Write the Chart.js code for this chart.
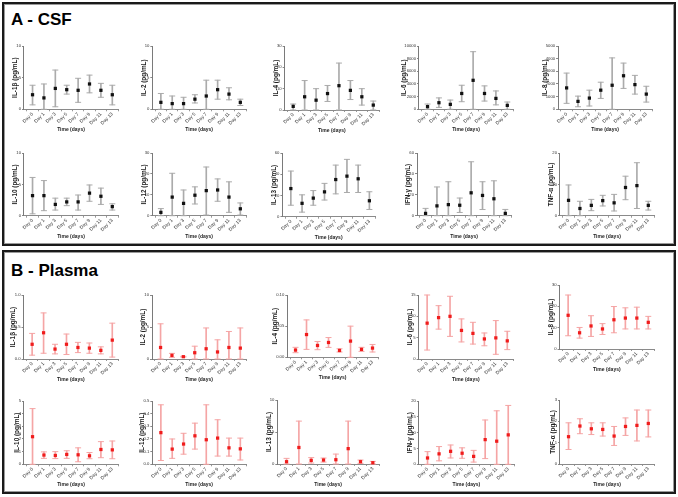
<!DOCTYPE html>
<html>
<head>
<meta charset="utf-8">
<script src="https://cdn.jsdelivr.net/npm/chart.js@4.4.1/dist/chart.umd.min.js"></script>
<style>
  body { margin: 0; width: 678px; height: 497px; position: relative; overflow: hidden; background: #fff;
         font-family: "Liberation Sans", Arial, sans-serif; }
  .box { position: absolute; left: 2px; width: 670px; height: 240px; border: 2px solid #1a1a1a;
         box-shadow: inset 0 0 0 1px #9a9a9a; }
  .head { position: absolute; left: 11px; font-weight: bold; font-size: 17px; line-height: 17px; color: #000; }
  canvas { position: absolute; }
</style>
</head>
<body>
<div class="box" style="top:2px"></div>
<div class="box" style="top:250px"></div>
<div class="head" style="top:11px">A - CSF</div>
<div class="head" style="top:262px">B - Plasma</div>
<script>
var days = ["Day 0", "Day 1", "Day 3", "Day 5", "Day 7", "Day 9", "Day 11", "Day 13"];

// A - CSF (mean, lower and upper end of error bar)
var csfIL1bMean = [2.3, 1.8, 3.3, 3.1, 3.0, 4.0, 3.0, 2.3];
var csfIL1bLow = [0.7, 0, 0.4, 2.4, 1.1, 2.6, 1.9, 0.7];
var csfIL1bHigh = [3.8, 4.0, 6.2, 3.8, 4.9, 5.4, 4.1, 3.8];
var csfIL2Mean = [1.1, 0.9, 0.9, 1.6, 2.1, 3.1, 2.4, 1.1];
var csfIL2Low = [0, 0, 0, 1.0, 0, 1.6, 1.5, 0.6];
var csfIL2High = [2.5, 2.1, 1.9, 2.3, 4.6, 4.6, 3.4, 1.6];
var csfIL4Mean = [1.7, 6.2, 4.6, 7.7, 11.4, 9.2, 6.2, 2.3];
var csfIL4Low = [0, 0, 0, 4.0, 0, 4.9, 2.3, 0];
var csfIL4High = [2.8, 13.8, 10.0, 11.5, 22.0, 13.8, 10.0, 4.2];
var csfIL6Mean = [420, 1040, 780, 2500, 4580, 2500, 1720, 620];
var csfIL6Low = [0, 300, 0, 1200, 0, 1300, 700, 0];
var csfIL6High = [830, 1800, 1460, 3800, 9100, 3700, 2900, 1150];
var csfIL8Mean = [1690, 625, 885, 1510, 1900, 2650, 1950, 1200];
var csfIL8Low = [470, 200, 260, 860, 0, 1650, 1200, 570];
var csfIL8High = [2860, 1040, 1510, 2140, 4060, 3650, 2680, 1820];
var csfIL10Mean = [3.2, 3.2, 1.8, 2.2, 2.2, 3.6, 3.1, 1.45];
var csfIL10Low = [0.3, 0.8, 0.9, 1.6, 0.9, 2.3, 1.8, 0.9];
var csfIL10High = [6.1, 5.6, 2.8, 2.8, 3.3, 4.9, 4.4, 1.9];
var csfIL12Mean = [1.6, 8.9, 5.9, 9.8, 12.0, 12.3, 8.9, 3.3];
var csfIL12Low = [0, 0, 0, 5.6, 0.3, 6.9, 1.6, 0.3];
var csfIL12High = [3.4, 20.3, 12.3, 13.8, 23.3, 17.6, 16.2, 6.1];
var csfIL13Mean = [26.5, 12.6, 17.5, 23.4, 35.0, 38.2, 35.7, 15.0];
var csfIL13Low = [10.8, 4.3, 10.8, 15.7, 21.5, 22.8, 22.8, 6.8];
var csfIL13High = [43.0, 20.6, 24.6, 31.4, 48.6, 54.0, 48.6, 23.5];
var csfIFNgMean = [2.2, 9.4, 10.6, 10.0, 21.9, 19.4, 16.2, 2.2];
var csfIFNgLow = [0, 0, 0, 3.1, 0, 5.9, 0, 0];
var csfIFNgHigh = [7.0, 27.5, 32.5, 16.9, 51.6, 32.5, 33.4, 6.0];
var csfTNFaMean = [4.9, 2.3, 3.3, 4.8, 4.1, 9.0, 9.6, 3.3];
var csfTNFaLow = [0, 0, 1.6, 3.1, 1.5, 5.1, 2.3, 1.8];
var csfTNFaHigh = [9.8, 4.6, 5.2, 6.5, 6.8, 12.6, 16.9, 4.6];

// B - Plasma
var plIL1bMean = [0.23, 0.41, 0.155, 0.23, 0.18, 0.17, 0.135, 0.295];
var plIL1bLow = [0.06, 0.09, 0.08, 0.07, 0.10, 0.09, 0.08, 0.03];
var plIL1bHigh = [0.40, 0.72, 0.23, 0.39, 0.26, 0.25, 0.19, 0.56];
var plIL2Mean = [1.8, 0.57, 0.36, 0.98, 1.6, 1.1, 1.8, 1.7];
var plIL2Low = [0, 0.26, 0.3, 0, 0, 0, 0, 0];
var plIL2High = [5.5, 0.88, 0.42, 2.0, 4.85, 3.0, 4.3, 4.85];
var plIL4Mean = [0.0116, 0.0365, 0.019, 0.0238, 0.011, 0.026, 0.0127, 0.0148];
var plIL4Low = [0.0074, 0.0127, 0.0122, 0.0159, 0.0085, 0, 0.0095, 0.0085];
var plIL4High = [0.016, 0.060, 0.0254, 0.0317, 0.0137, 0.050, 0.016, 0.0206];
var plIL6Mean = [8.4, 9.7, 10.0, 6.7, 6.0, 4.7, 4.95, 4.25];
var plIL6Low = [2.1, 7.0, 5.3, 4.0, 3.5, 3.1, 1.1, 2.2];
var plIL6High = [15.0, 12.5, 14.7, 9.4, 8.6, 6.1, 9.0, 6.5];
var plIL8Mean = [15.8, 7.6, 10.8, 9.4, 13.7, 14.5, 14.5, 12.5];
var plIL8Low = [6.2, 5.1, 5.9, 6.8, 7.6, 9.4, 9.4, 9.4];
var plIL8High = [25.3, 10.1, 15.6, 11.9, 19.9, 19.3, 19.6, 15.3];
var plIL10Mean = [2.18, 0.73, 0.7, 0.78, 0.75, 0.67, 1.17, 1.14];
var plIL10Low = [0, 0.47, 0.45, 0.47, 0.2, 0.44, 0.52, 0.44];
var plIL10High = [4.4, 0.98, 1.0, 1.07, 1.3, 0.93, 1.79, 1.84];
var plIL12Mean = [0.25, 0.12, 0.16, 0.225, 0.194, 0.207, 0.13, 0.122];
var plIL12Low = [0.03, 0.047, 0.08, 0.12, 0, 0.065, 0.065, 0.034];
var plIL12High = [0.47, 0.2, 0.245, 0.325, 0.47, 0.352, 0.207, 0.207];
var plIL13Mean = [0.36, 2.58, 0.57, 0.62, 0.67, 2.4, 0.36, 0.2];
var plIL13Low = [0, 0, 0.15, 0.3, 0, 0, 0.1, 0];
var plIL13High = [0.88, 6.7, 1.0, 0.93, 1.55, 6.7, 0.62, 0.41];
var plIFNgMean = [2.0, 3.3, 4.1, 3.5, 2.5, 7.8, 7.3, 9.3];
var plIFNgLow = [0, 1.1, 2.0, 1.9, 0.7, 1.8, 0, 0];
var plIFNgHigh = [4.0, 5.6, 6.1, 5.2, 4.4, 14.0, 16.9, 18.6];
var plTNFaMean = [1.28, 1.78, 1.65, 1.62, 1.31, 1.76, 1.81, 1.9];
var plTNFaLow = [0.68, 1.42, 1.38, 1.31, 0.87, 1.34, 1.08, 1.27];
var plTNFaHigh = [1.93, 2.12, 1.93, 1.93, 1.76, 2.16, 2.53, 2.53];

// y tick labels
var ticks0to10 = ["0", "5", "10"];
var ticks0to30 = ["0", "10", "20", "30"];
var ticks0to60 = ["0", "20", "40", "60"];
var ticksIL6csf = ["0", "2000", "4000", "6000", "8000", "10000"];
var ticksIL8csf = ["0", "1000", "2000", "3000", "4000", "5000"];
var ticks0to20 = ["0", "10", "20"];
var ticksIL1bPl = ["0.0", "0.5", "1.0"];
var ticksIL4Pl = ["0.00", "0.05", "0.10"];
var ticks0to15 = ["0", "5", "10", "15"];
var ticks0to5 = ["0", "1", "2", "3", "4", "5"];
var ticksIL12Pl = ["0.0", "0.1", "0.2", "0.3", "0.4", "0.5"];
var ticksIFNgPl = ["0", "5", "10", "15", "20"];
var ticks0to3 = ["0", "1", "2", "3"];

// panel placement: [x of Day 0, x of Day 13, y of top tick, y of zero]
var panels = [
    { pl: false, title: "IL-1β (pg/mL)", m: csfIL1bMean, lo: csfIL1bLow, hi: csfIL1bHigh, t: ticks0to10, at: [32.7, 114, 45.3, 109.3] },
    { pl: false, title: "IL-2 (pg/mL)", m: csfIL2Mean, lo: csfIL2Low, hi: csfIL2High, t: ticks0to10, at: [161, 241.7, 45.3, 109.3] },
    { pl: false, title: "IL-4 (pg/mL)", m: csfIL4Mean, lo: csfIL4Low, hi: csfIL4High, t: ticks0to30, at: [293.3, 374.3, 45, 110] },
    { pl: false, title: "IL-6 (pg/mL)", m: csfIL6Mean, lo: csfIL6Low, hi: csfIL6High, t: ticksIL6csf, at: [427.7, 509, 45.3, 109.3] },
    { pl: false, title: "IL-8 (pg/mL)", m: csfIL8Mean, lo: csfIL8Low, hi: csfIL8High, t: ticksIL8csf, at: [566.7, 647.3, 45.3, 109.3] },
    { pl: false, title: "IL-10 (pg/mL)", m: csfIL10Mean, lo: csfIL10Low, hi: csfIL10High, t: ticks0to10, at: [32.7, 114, 151.7, 215.7] },
    { pl: false, title: "IL-12 (pg/mL)", m: csfIL12Mean, lo: csfIL12Low, hi: csfIL12High, t: ticks0to30, at: [161, 241.7, 151.7, 215.7] },
    { pl: false, title: "IL-13 (pg/mL)", m: csfIL13Mean, lo: csfIL13Low, hi: csfIL13High, t: ticks0to60, at: [291, 371, 151.7, 216.7] },
    { pl: false, title: "IFN-γ (pg/mL)", m: csfIFNgMean, lo: csfIFNgLow, hi: csfIFNgHigh, t: ticks0to60, at: [425.7, 506.7, 151.7, 215.7] },
    { pl: false, title: "TNF-α (pg/mL)", m: csfTNFaMean, lo: csfTNFaLow, hi: csfTNFaHigh, t: ticks0to20, at: [568.7, 650, 151.7, 215.7] },

    { pl: true, title: "IL-1β (pg/mL)", m: plIL1bMean, lo: plIL1bLow, hi: plIL1bHigh, t: ticksIL1bPl, at: [32.3, 114, 294.3, 359] },
    { pl: true, title: "IL-2 (pg/mL)", m: plIL2Mean, lo: plIL2Low, hi: plIL2High, t: ticks0to10, at: [160.7, 241.7, 294.3, 359] },
    { pl: true, title: "IL-4 (pg/mL)", m: plIL4Mean, lo: plIL4Low, hi: plIL4High, t: ticksIL4Pl, at: [295.7, 374.3, 294.3, 357.3] },
    { pl: true, title: "IL-6 (pg/mL)", m: plIL6Mean, lo: plIL6Low, hi: plIL6High, t: ticks0to15, at: [427.3, 509, 294.3, 359] },
    { pl: true, title: "IL-8 (pg/mL)", m: plIL8Mean, lo: plIL8Low, hi: plIL8High, t: ticks0to30, at: [568.3, 650, 284.3, 349] },
    { pl: true, title: "IL-10 (pg/mL)", m: plIL10Mean, lo: plIL10Low, hi: plIL10High, t: ticks0to5, at: [32.7, 114, 400, 464.3] },
    { pl: true, title: "IL-12 (pg/mL)", m: plIL12Mean, lo: plIL12Low, hi: plIL12High, t: ticksIL12Pl, at: [161, 241.7, 400, 464.3] },
    { pl: true, title: "IL-13 (pg/mL)", m: plIL13Mean, lo: plIL13Low, hi: plIL13High, t: ticks0to10, at: [286.7, 374.3, 399.3, 464] },
    { pl: true, title: "IFN-γ (pg/mL)", m: plIFNgMean, lo: plIFNgLow, hi: plIFNgHigh, t: ticksIFNgPl, at: [427.7, 510, 400, 464.3] },
    { pl: true, title: "TNF-α (pg/mL)", m: plTNFaMean, lo: plTNFaLow, hi: plTNFaHigh, t: ticks0to3, at: [568.7, 650, 399.3, 464] }
];

var FONT = "'Liberation Sans', Arial, sans-serif";
var X_MIN = -0.75, X_MAX = 7.5;
var XH = 23.5;   // height of x axis block (labels + title)

function points(arr) {
    return arr.map(function (v, i) { return { x: i, y: v }; });
}

function makePanel(p) {
    var s = (p.at[1] - p.at[0]) / 7;
    var L = p.at[0] + X_MIN * s, R = p.at[0] + X_MAX * s;
    var span = p.at[3] - p.at[2];
    var chars = Math.max.apply(null, p.t.map(function (t) { return t.length; }));
    var left = Math.round(L - (9 + 1.9 * chars));
    var yw = L - left;
    var top = Math.round(p.at[2] - 4);
    var padTop = p.at[2] - top;
    var W = Math.ceil(yw + (R - L) + 3), H = Math.ceil(padTop + span + XH + 1);
    var padRight = W - yw - (R - L), padBottom = H - padTop - span - XH;

    var cv = document.createElement("canvas");
    cv.width = W; cv.height = H;
    cv.style.left = left + "px"; cv.style.top = top + "px";
    cv.style.width = W + "px"; cv.style.height = H + "px";
    document.body.appendChild(cv);

    var errCol = p.pl ? "#f5a5a5" : "#ababab";
    var dotCol = p.pl ? "#f01c1c" : "#111111";
    var yVals = p.t.map(Number);
    var capStyle = { pointStyle: "line", pointRadius: 3, pointBorderColor: errCol, pointBorderWidth: 1, showLine: false, clip: false, order: 2 };

    new Chart(cv.getContext("2d"), {
        type: "line",
        data: {
            datasets: [
                {
                    type: "bar",
                    data: p.m.map(function (v, i) { return { x: i, y: [p.lo[i], p.hi[i]] }; }),
                    backgroundColor: errCol, barThickness: 1, borderWidth: 0, clip: false, order: 3
                },
                Object.assign({ data: points(p.lo) }, capStyle),
                Object.assign({ data: points(p.hi) }, capStyle),
                {
                    data: points(p.m), showLine: false, pointStyle: "rect", pointRadius: 2.3,
                    pointBackgroundColor: dotCol, pointBorderColor: dotCol, pointBorderWidth: 0, clip: false, order: 1
                }
            ]
        },
        options: {
            responsive: false,
            animation: false,
            events: [],
            layout: { padding: { left: 0, top: padTop, right: padRight, bottom: padBottom } },
            plugins: { legend: { display: false }, tooltip: { enabled: false } },
            scales: {
                x: {
                    type: "linear", min: X_MIN, max: X_MAX, offset: false,
                    afterBuildTicks: function (sc) { sc.ticks = days.map(function (d, i) { return { value: i }; }); },
                    afterFit: function (sc) { sc.height = XH; },
                    ticks: {
                        callback: function (v) { return days[v]; },
                        minRotation: 45, maxRotation: 45, autoSkip: false, padding: 0,
                        color: "#333", font: { family: FONT, size: 4.8 }
                    },
                    grid: { drawOnChartArea: false, tickLength: 2, color: "#999" },
                    border: { color: "#8a8a8a", width: 1, dash: [1, 1] },
                    title: { display: true, text: "Time (days)", padding: 0, color: "#222", font: { family: FONT, size: 5, weight: "bold" } }
                },
                y: {
                    min: 0, max: yVals[yVals.length - 1],
                    afterBuildTicks: function (sc) { sc.ticks = yVals.map(function (v) { return { value: v }; }); },
                    afterFit: function (sc) { sc.width = yw; },
                    ticks: {
                        callback: function (v, i) { return p.t[i]; },
                        padding: 1, color: "#333", font: { family: FONT, size: 4.2 }
                    },
                    grid: { drawOnChartArea: false, tickLength: 2, color: "#888" },
                    border: { color: "#7a7a7a", width: 1 },
                    title: { display: true, text: p.title, padding: 0, color: "#222", font: { family: FONT, size: 6.4, weight: "bold" } }
                }
            }
        }
    });
}

panels.forEach(makePanel);
</script>
</body>
</html>
